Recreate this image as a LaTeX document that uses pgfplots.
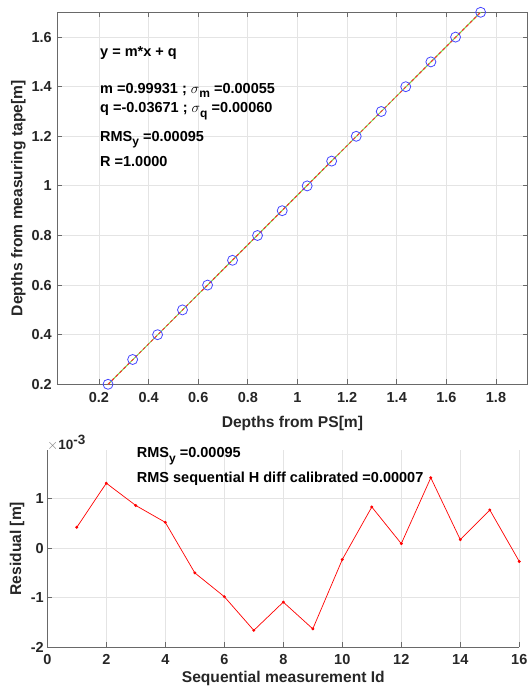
\documentclass[border=0pt]{standalone}
\usepackage{pgfplots}
\pgfplotsset{compat=1.18}
\usepackage{fontspec}
\setmainfont{Liberation Sans}
\definecolor{axgray}{RGB}{105,105,105}
\definecolor{txtgray}{RGB}{38,38,38}
\definecolor{gridgray}{RGB}{228,228,228}
\definecolor{fitgreen}{RGB}{115,215,70}
\definecolor{fitred}{RGB}{255,45,45}
\definecolor{mkblue}{RGB}{70,70,255}
\newcommand{\tfont}{\fontsize{14.5}{17}\selectfont\bfseries}
\newcommand{\lfont}{\fontsize{15.6}{18}\selectfont\bfseries}
\newcommand{\sub}[1]{\raisebox{-4.5pt}{\fontsize{12}{12}\selectfont\bfseries #1}}
\pgfplotsset{
  mystyle/.style={
    scale only axis,
    /pgf/number format/assume math mode=true,
    tick label style={font=\tfont, text=txtgray},
    label style={font=\lfont, text=txtgray},
    axis line style={axgray, line width=0.8pt},
    tick style={axgray, line width=0.8pt},
    major tick length=5pt,
    tick align=inside,
    grid=major,
    major grid style={gridgray, line width=0.8pt},
  }
}
\begin{document}
\begin{tikzpicture}
\useasboundingbox (0pt,0pt) rectangle (528pt,686pt);
% ---------- top axis ----------
\begin{axis}[mystyle,
  at={(57.3pt,301.7pt)}, anchor=south west,
  width=470.2pt, height=372pt,
  xmin=0.032, xmax=1.927, ymin=0.2, ymax=1.7,
  xtick={0.2,0.4,0.6,0.8,1,1.2,1.4,1.6,1.8},
  xticklabels={0.2,0.4,0.6,0.8,1,1.2,1.4,1.6,1.8},
  ytick={0.2,0.4,0.6,0.8,1,1.2,1.4,1.6},
  yticklabels={0.2,0.4,0.6,0.8,1,1.2,1.4,1.6},
  xticklabel style={yshift=-5pt},
  yticklabel style={xshift=-2pt},
  xlabel={Depths from PS[m]},
  ylabel={Depths from measuring tape[m]},
  xlabel style={at={(axis description cs:0.5,0)}, anchor=base, yshift=-43.7pt},
  ylabel style={at={(axis description cs:-0.083,0.5)}, anchor=center},
]
\addplot[fitgreen, line width=1pt] coordinates {(0.23645,0.19958) (1.73818,1.70027)};
\addplot[fitred, line width=1pt, dash pattern=on 3pt off 2.5pt] coordinates {(0.23645,0.19958) (1.73818,1.70027)};
\addplot[only marks, mark=o, mark size=5pt, mkblue, mark options={line width=0.8pt}] coordinates {
(0.23645,0.2) (0.33563,0.3) (0.43615,0.4) (0.53656,0.5)
(0.63765,0.6) (0.73820,0.7) (0.83895,0.8) (0.93845,0.9)
(1.03906,1.0) (1.13772,1.1) (1.23673,1.2) (1.33754,1.3)
(1.43628,1.4) (1.53760,1.5) (1.63707,1.6) (1.73818,1.7)};
\end{axis}
% annotations top
\node[anchor=base west, inner sep=0, font=\tfont, text=black] at (100pt,629pt) {y = m*x + q};
\node[anchor=base west, inner sep=0, font=\tfont, text=black] at (100pt,592.5pt) {m =0.99931 ; $\sigma$\sub{m} =0.00055};
\node[anchor=base west, inner sep=0, font=\tfont, text=black] at (100pt,573.3pt) {q =-0.03671 ; $\sigma$\sub{q} =0.00060};
\node[anchor=base west, inner sep=0, font=\tfont, text=black] at (100pt,544.8pt) {RMS\sub{y} =0.00095};
\node[anchor=base west, inner sep=0, font=\tfont, text=black] at (100pt,519.5pt) {R =1.0000};
% ---------- bottom axis ----------
\begin{axis}[mystyle,
  at={(47.3pt,38.8pt)}, anchor=south west,
  width=472pt, height=197.2pt,
  xmin=0, xmax=16, ymin=-2, ymax=1.98,
  axis x line*=bottom, axis y line*=left,
  every outer x axis line/.append style={-},
  every outer y axis line/.append style={-},
  xtick={0,2,4,6,8,10,12,14,16},
  xticklabels={0,2,4,6,8,10,12,14,16},
  ytick={-2,-1,0,1},
  yticklabels={-2,-1,0,1},
  xticklabel style={yshift=-4pt},
  xlabel={Sequential measurement Id},
  ylabel={Residual [m]},
  xlabel style={at={(axis description cs:0.5,0)}, anchor=base, yshift=-35.5pt},
  ylabel style={at={(axis description cs:-0.064,0.5)}, anchor=center},
]
\addplot[red, line width=0.7pt, mark=*, mark size=1.1pt] coordinates {
(1,0.42) (2,1.31) (3,0.86) (4,0.52) (5,-0.50) (6,-0.98) (7,-1.66) (8,-1.09)
(9,-1.63) (10,-0.23) (11,0.83) (12,0.09) (13,1.42) (14,0.17) (15,0.77) (16,-0.27)};
\end{axis}
\node[anchor=west, inner sep=0, text=txtgray] at (47pt,243pt) {{\fontsize{14}{14}\selectfont\color{gray}$\times$}{\fontsize{13.5}{14}\selectfont\bfseries 10$^{\textbf{-3}}$}};
\node[anchor=base west, inner sep=0, font=\tfont, text=black] at (136.7pt,228pt) {RMS\sub{y} =0.00095};
\node[anchor=base west, inner sep=0, font=\tfont, text=black] at (136.7pt,203pt) {RMS sequential H diff calibrated =0.00007};
\end{tikzpicture}
\end{document}
